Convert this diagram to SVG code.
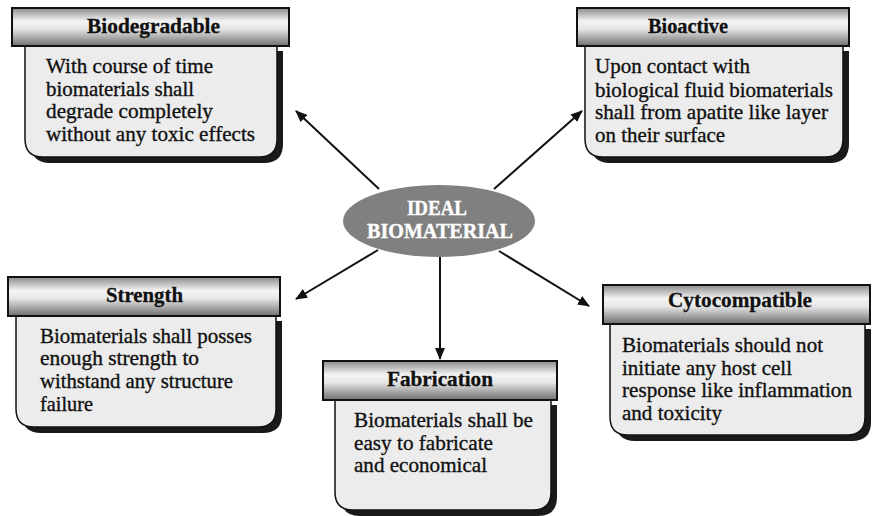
<svg xmlns="http://www.w3.org/2000/svg" width="873" height="516" viewBox="0 0 873 516">
  <defs>
    <linearGradient id="hdrGrad" x1="0" y1="0" x2="0" y2="1">
      <stop offset="0" stop-color="#8a8a8a"/>
      <stop offset="0.35" stop-color="#f4f4f4"/>
      <stop offset="0.55" stop-color="#e6e6e6"/>
      <stop offset="1" stop-color="#6e6e6e"/>
    </linearGradient>
    <marker id="arrow" viewBox="0 0 12 10" refX="11" refY="5" markerWidth="12" markerHeight="10" markerUnits="userSpaceOnUse" orient="auto">
      <path d="M0,0 L12,5 L0,10 Z" fill="#111"/>
    </marker>
  </defs>
  <style>
    .hdr { fill: url(#hdrGrad); stroke: #111; stroke-width: 2; }
    .body { fill: #ececec; stroke: #111; stroke-width: 1.5; }
    .shadow { fill: #1a1a1a; }
    .title { font-family: "Liberation Serif", "Times New Roman", serif; font-weight: bold; font-size: 21px; fill: #111; stroke: #111; stroke-width: 0.3; }
    .txt { font-family: "Liberation Serif", "Times New Roman", serif; font-size: 21px; fill: #111; stroke: #111; stroke-width: 0.35; }
    .hub { font-family: "Liberation Serif", "Times New Roman", serif; font-weight: bold; font-size: 22px; fill: #fff; stroke: #fff; stroke-width: 0.4; }
    .link { stroke: #111; stroke-width: 2; fill: none; marker-end: url(#arrow); }
  </style>

  <rect width="873" height="516" fill="#fff"/>

  <!-- connectors from the hub -->
  <g id="connectors">
    <line class="link" x1="379" y1="189" x2="296" y2="111"/>
    <line class="link" x1="494" y1="189" x2="582" y2="111"/>
    <line class="link" x1="378" y1="250" x2="296" y2="299"/>
    <line class="link" x1="440" y1="257" x2="440" y2="359"/>
    <line class="link" x1="499" y1="251" x2="589" y2="306"/>
  </g>

  <!-- hub -->
  <g id="hub">
    <ellipse cx="439" cy="221" rx="96" ry="36" fill="#808080"/>
    <text class="hub" x="407" y="215" textLength="60" lengthAdjust="spacingAndGlyphs">IDEAL</text>
    <text class="hub" x="367" y="238" textLength="146" lengthAdjust="spacingAndGlyphs">BIOMATERIAL</text>
  </g>

  <!-- Biodegradable -->
  <g id="biodegradable">
    <path class="shadow" d="M31,51 H283 V144 Q283,163 264,163 H50 Q31,163 31,144 Z"/>
    <path class="body" d="M25,46 H277 V139 Q277,157 259,157 H43 Q25,157 25,139 Z"/>
    <rect class="hdr" x="12" y="8" width="277" height="38"/>
    <text class="title" x="87" y="33" textLength="133" lengthAdjust="spacingAndGlyphs">Biodegradable</text>
    <text class="txt" x="46" y="73" textLength="167" lengthAdjust="spacingAndGlyphs">With course of time</text>
    <text class="txt" x="46" y="96" textLength="148" lengthAdjust="spacingAndGlyphs">biomaterials shall</text>
    <text class="txt" x="46" y="118" textLength="167" lengthAdjust="spacingAndGlyphs">degrade completely</text>
    <text class="txt" x="46" y="141" textLength="209" lengthAdjust="spacingAndGlyphs">without any toxic effects</text>
  </g>

  <!-- Bioactive -->
  <g id="bioactive">
    <path class="shadow" d="M591,51 H849 V144 Q849,163 830,163 H610 Q591,163 591,144 Z"/>
    <path class="body" d="M585,46 H843 V139 Q843,157 825,157 H603 Q585,157 585,139 Z"/>
    <rect class="hdr" x="577" y="8" width="272" height="38"/>
    <text class="title" x="648" y="33" textLength="80" lengthAdjust="spacingAndGlyphs">Bioactive</text>
    <text class="txt" x="595" y="73" textLength="155" lengthAdjust="spacingAndGlyphs">Upon contact with</text>
    <text class="txt" x="595" y="97" textLength="238" lengthAdjust="spacingAndGlyphs">biological fluid biomaterials</text>
    <text class="txt" x="595" y="119" textLength="233" lengthAdjust="spacingAndGlyphs">shall from apatite like layer</text>
    <text class="txt" x="595" y="142" textLength="130" lengthAdjust="spacingAndGlyphs">on their surface</text>
  </g>

  <!-- Strength -->
  <g id="strength">
    <path class="shadow" d="M22,321 H282 V414 Q282,433 263,433 H41 Q22,433 22,414 Z"/>
    <path class="body" d="M16,316 H276 V409 Q276,427 258,427 H34 Q16,427 16,409 Z"/>
    <rect class="hdr" x="8" y="277" width="272" height="39"/>
    <text class="title" x="106" y="302" textLength="77" lengthAdjust="spacingAndGlyphs">Strength</text>
    <text class="txt" x="40" y="343" textLength="212" lengthAdjust="spacingAndGlyphs">Biomaterials shall posses</text>
    <text class="txt" x="40" y="365" textLength="159" lengthAdjust="spacingAndGlyphs">enough strength to</text>
    <text class="txt" x="40" y="388" textLength="193" lengthAdjust="spacingAndGlyphs">withstand any structure</text>
    <text class="txt" x="40" y="411" textLength="53" lengthAdjust="spacingAndGlyphs">failure</text>
  </g>

  <!-- Fabrication -->
  <g id="fabrication">
    <path class="shadow" d="M341,405 H557 V497 Q557,516 538,516 H360 Q341,516 341,497 Z"/>
    <path class="body" d="M335,400 H551 V492 Q551,510 533,510 H353 Q335,510 335,492 Z"/>
    <rect class="hdr" x="323" y="361" width="234" height="39"/>
    <text class="title" x="387" y="386" textLength="106" lengthAdjust="spacingAndGlyphs">Fabrication</text>
    <text class="txt" x="354" y="427" textLength="179" lengthAdjust="spacingAndGlyphs">Biomaterials shall be</text>
    <text class="txt" x="354" y="450" textLength="139" lengthAdjust="spacingAndGlyphs">easy to fabricate</text>
    <text class="txt" x="354" y="472" textLength="133" lengthAdjust="spacingAndGlyphs">and economical</text>
  </g>

  <!-- Cytocompatible -->
  <g id="cytocompatible">
    <path class="shadow" d="M616,329 H871 V422 Q871,441 852,441 H635 Q616,441 616,422 Z"/>
    <path class="body" d="M610,324 H865 V417 Q865,435 847,435 H628 Q610,435 610,417 Z"/>
    <rect class="hdr" x="603" y="285" width="267" height="39"/>
    <text class="title" x="668" y="307" textLength="144" lengthAdjust="spacingAndGlyphs">Cytocompatible</text>
    <text class="txt" x="622" y="352" textLength="201" lengthAdjust="spacingAndGlyphs">Biomaterials should not</text>
    <text class="txt" x="622" y="375" textLength="170" lengthAdjust="spacingAndGlyphs">initiate any host cell</text>
    <text class="txt" x="622" y="397" textLength="230" lengthAdjust="spacingAndGlyphs">response like inflammation</text>
    <text class="txt" x="622" y="420" textLength="100" lengthAdjust="spacingAndGlyphs">and toxicity</text>
  </g>
</svg>
